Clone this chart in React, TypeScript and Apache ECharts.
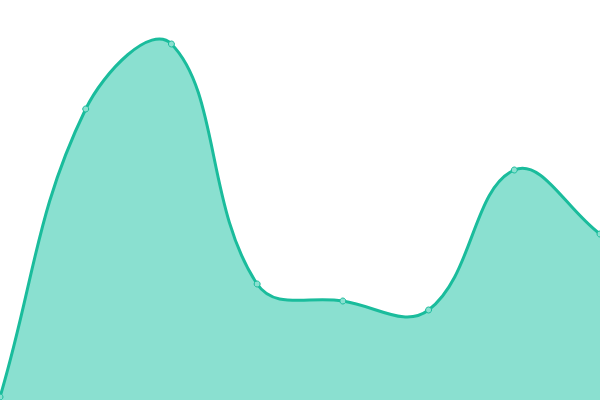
import { useEffect, useRef } from "react";
import * as echarts from "echarts";

const categories = ["1", "2", "3", "4", "5", "6", "7", "8"];
const values = [3, 291, 356, 116, 99, 90, 230, 166];

const LINE = "#1abc9c";
const FILL = "#8ae0d0";
const TENSION = 0.4;

type Pt = [number, number];

// spline with tension, weighted by segment length (the curve may overshoot its points)
function smoothPath(pts: Pt[]): string {
  const n = pts.length;
  const prevCp: Pt[] = [];
  const nextCp: Pt[] = [];
  for (let i = 0; i < n; i++) {
    const p = pts[i];
    const prev = pts[Math.max(i - 1, 0)];
    const next = pts[Math.min(i + 1, n - 1)];
    const d01 = Math.hypot(p[0] - prev[0], p[1] - prev[1]);
    const d12 = Math.hypot(next[0] - p[0], next[1] - p[1]);
    const sum = d01 + d12 || 1;
    const fa = (TENSION * d01) / sum;
    const fb = (TENSION * d12) / sum;
    const dx = next[0] - prev[0];
    const dy = next[1] - prev[1];
    prevCp.push([p[0] - fa * dx, p[1] - fa * dy]);
    nextCp.push([p[0] + fb * dx, p[1] + fb * dy]);
  }
  let d = `M${pts[0][0]},${pts[0][1]}`;
  for (let i = 1; i < n; i++) {
    const c1 = nextCp[i - 1];
    const c2 = prevCp[i];
    d += ` C${c1[0]},${c1[1]} ${c2[0]},${c2[1]} ${pts[i][0]},${pts[i][1]}`;
  }
  return d;
}

export default function App(): JSX.Element {
  const ref = useRef<HTMLDivElement | null>(null);

  useEffect(() => {
    const el = ref.current;
    if (!el) return;
    const chart = echarts.init(el, undefined, { renderer: "svg" });
    chart.setOption({
      animation: false,
      grid: { left: 0, right: 0, top: 0, bottom: 0 },
      xAxis: {
        type: "category",
        data: categories,
        boundaryGap: false,
        show: false,
      },
      yAxis: { type: "value", min: 0, max: 400, show: false },
      series: [
        {
          type: "custom",
          clip: false,
          data: values.map((v, i) => [i, v]),
          renderItem: (params: any, api: any) => {
            if (params.dataIndex !== 0) return null;
            const pts = values.map((v, i) => api.coord([i, v]) as Pt);
            const curve = smoothPath(pts);
            const base = api.coord([values.length - 1, 0])[1];
            const area = `${curve} L${pts[pts.length - 1][0]},${base} L${pts[0][0]},${base} Z`;
            return {
              type: "group",
              children: [
                { type: "path", shape: { pathData: area }, style: { fill: FILL, stroke: "none" } },
                {
                  type: "path",
                  shape: { pathData: curve },
                  style: { fill: "none", stroke: LINE, lineWidth: 3 },
                },
              ],
            };
          },
        },
        {
          type: "line",
          data: values,
          symbol: "circle",
          symbolSize: 6,
          showAllSymbol: true,
          z: 5,
          lineStyle: { width: 0, opacity: 0 },
          itemStyle: { color: FILL, borderColor: LINE, borderWidth: 1 },
        },
      ],
    });
    return () => chart.dispose();
  }, []);

  return (
    <div
      ref={ref}
      style={{ position: "absolute", left: 0, top: 0, width: 600, height: 400 }}
    />
  );
}
